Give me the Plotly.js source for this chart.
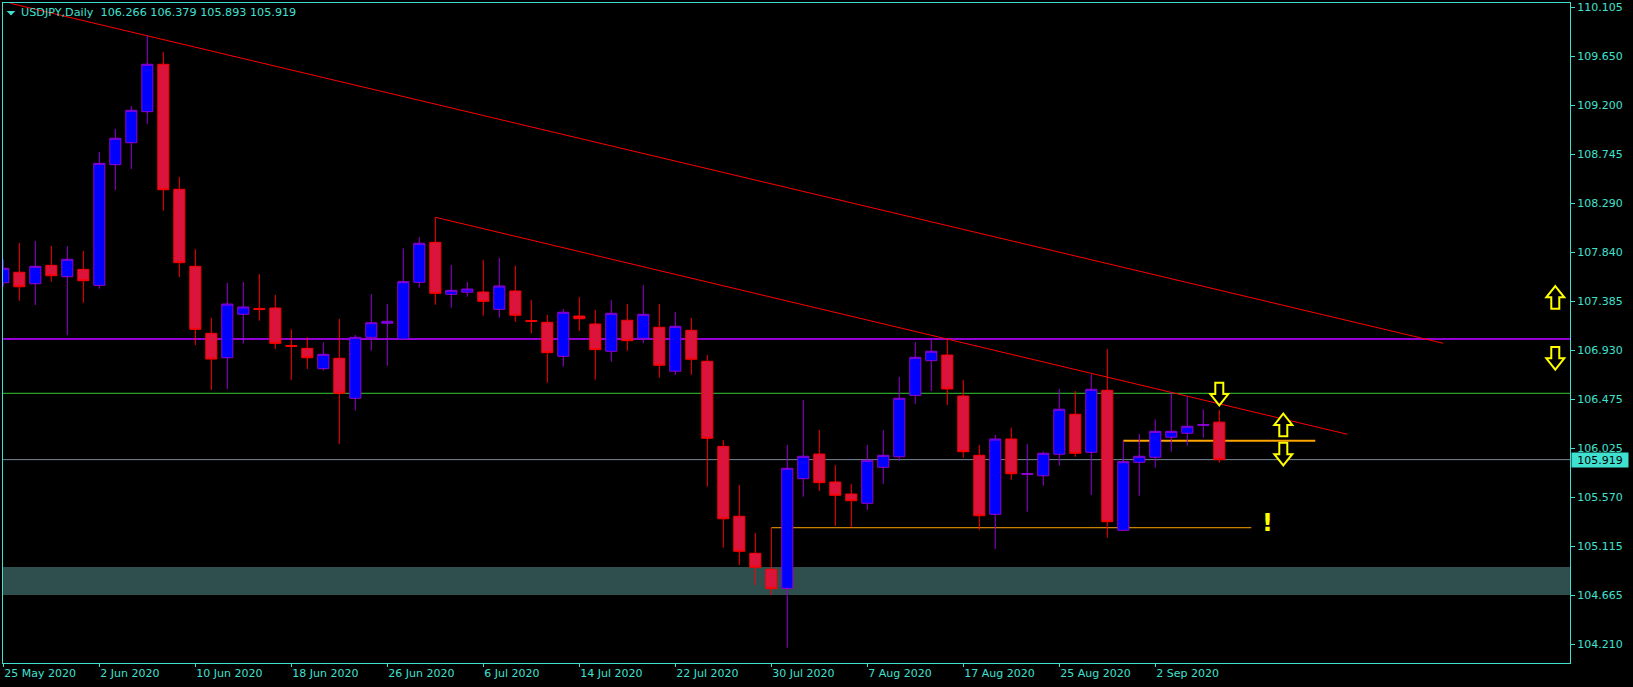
<!DOCTYPE html>
<html><head><meta charset="utf-8">
<script src="https://cdn.plot.ly/plotly-3.0.1.min.js"></script>
<style>html,body{margin:0;padding:0;background:#000;} #chart{width:1633px;height:687px;}</style>
</head><body><div id="chart"></div>
<script>
// ---- data (USDJPY, Daily) ----
const dates = ['2020-05-25','2020-05-26','2020-05-27','2020-05-28','2020-05-29','2020-06-01','2020-06-02','2020-06-03','2020-06-04','2020-06-05',
'2020-06-08','2020-06-09','2020-06-10','2020-06-11','2020-06-12','2020-06-15','2020-06-16','2020-06-17','2020-06-18','2020-06-19',
'2020-06-22','2020-06-23','2020-06-24','2020-06-25','2020-06-26','2020-06-29','2020-06-30','2020-07-01','2020-07-02','2020-07-03',
'2020-07-06','2020-07-07','2020-07-08','2020-07-09','2020-07-10','2020-07-13','2020-07-14','2020-07-15','2020-07-16','2020-07-17',
'2020-07-20','2020-07-21','2020-07-22','2020-07-23','2020-07-24','2020-07-27','2020-07-28','2020-07-29','2020-07-30','2020-07-31',
'2020-08-03','2020-08-04','2020-08-05','2020-08-06','2020-08-07','2020-08-10','2020-08-11','2020-08-12','2020-08-13','2020-08-14',
'2020-08-17','2020-08-18','2020-08-19','2020-08-20','2020-08-21','2020-08-24','2020-08-25','2020-08-26','2020-08-27','2020-08-28',
'2020-08-31','2020-09-01','2020-09-02','2020-09-03','2020-09-04','2020-09-07','2020-09-08'];
const openP = [107.556,107.653,107.547,107.717,107.612,107.680,107.532,108.649,108.852,109.139,
109.578,108.421,107.708,107.088,106.862,107.264,107.318,107.322,106.975,106.949,
106.761,106.857,106.487,107.051,107.181,107.035,107.560,107.930,107.449,107.468,
107.470,107.310,107.480,107.206,107.190,106.875,107.248,107.174,106.922,107.209,
107.042,107.144,106.737,107.116,106.829,106.042,105.395,105.052,104.904,104.728,
105.743,105.971,105.712,105.601,105.515,105.848,105.946,106.514,106.835,106.887,
106.508,105.959,105.413,106.110,105.782,105.770,105.969,106.339,105.987,106.561,
105.265,105.894,105.941,106.126,106.163,106.236,106.266];
const highP = [107.773,107.924,107.942,107.896,107.896,107.850,108.766,108.979,109.192,109.842,
109.691,108.535,107.866,107.233,107.554,107.563,107.637,107.443,107.125,107.051,
107.005,107.221,107.073,107.452,107.359,107.875,107.979,108.162,107.720,107.563,
107.767,107.788,107.714,107.396,107.258,107.313,107.424,107.304,107.396,107.359,
107.535,107.359,107.285,107.230,106.887,106.101,105.684,105.240,105.289,106.055,
106.471,106.193,105.869,105.694,106.055,106.193,106.684,107.008,107.033,107.033,
106.656,106.055,106.147,106.215,106.064,105.993,106.573,106.554,106.709,106.943,
106.094,106.156,106.292,106.542,106.502,106.385,106.379];
const lowP = [107.519,107.390,107.350,107.566,107.072,107.371,107.501,108.414,108.609,109.025,
108.223,107.609,106.980,106.563,106.573,106.992,107.205,106.943,106.656,106.758,
106.742,106.064,106.372,106.927,106.788,107.032,107.510,107.353,107.325,107.427,
107.251,107.233,107.196,107.088,106.631,106.779,107.110,106.659,106.825,106.927,
106.996,106.677,106.705,106.705,105.669,105.104,104.944,104.759,104.666,104.179,
105.576,105.629,105.305,105.293,105.453,105.694,105.907,106.434,106.554,106.425,
105.937,105.268,105.092,105.731,105.437,105.678,105.863,105.946,105.592,105.197,
105.262,105.585,105.844,105.993,106.048,106.122,105.893];
const closeP = [107.690,107.519,107.708,107.621,107.773,107.575,108.661,108.893,109.152,109.578,
108.417,107.742,107.125,106.850,107.359,107.332,107.308,106.995,106.968,106.862,
106.894,106.533,107.051,107.186,107.199,107.566,107.921,107.458,107.486,107.498,
107.384,107.526,107.255,107.198,106.909,107.283,107.223,106.937,107.273,107.020,
107.264,106.792,107.153,106.848,106.116,105.372,105.071,104.923,104.725,105.839,
105.950,105.706,105.589,105.539,105.913,105.959,106.487,106.866,106.922,106.573,
105.993,105.400,106.110,105.789,105.790,105.978,106.385,105.978,106.570,105.345,
105.900,105.950,106.181,106.181,106.228,106.244,105.919];

const tickDates  = ['2020-05-25','2020-06-02','2020-06-10','2020-06-18','2020-06-26','2020-07-06','2020-07-14','2020-07-22','2020-07-30','2020-08-07','2020-08-17','2020-08-25','2020-09-02'];
const tickLabels = ['25 May 2020','2 Jun 2020','10 Jun 2020','18 Jun 2020','26 Jun 2020','6 Jul 2020','14 Jul 2020','22 Jul 2020','30 Jul 2020','7 Aug 2020','17 Aug 2020','25 Aug 2020','2 Sep 2020'];
const priceTicks = [110.105,109.650,109.200,108.745,108.290,107.840,107.385,106.930,106.475,106.025,105.570,105.115,104.665,104.210];

const symbolTitle = 'USDJPY,Daily';
const lastBid = 105.919;
const resistanceLevel = 107.035;   // purple
const greenLevel = 106.533;        // green
const demandZone = [104.666, 104.925];
const lowSupport = {x: [48, 78], y: 105.289};     // thin orange
const nearSupport = {x: [70, 82], y: 106.094};    // thick orange
const trendMajorX = [0.44, 90],  trendMajorY = [110.142, 106.996];
const trendMinorX = [27, 84],    trendMinorY = [108.162, 106.154];
const upArrowsX = [97, 80],   upArrowsY = [107.421, 106.24];
const downArrowsX = [97, 76, 80], downArrowsY = [106.857, 106.526, 105.97];
const alertMark = {x: 79, y: 105.335};

// ---- chart ----
const AX = '#40E0D0';
const FONT = 'DejaVu Sans';
const idx = dates.map((d, i) => i);
const tickIdx = tickDates.map(d => dates.indexOf(d));
const ohlc = [openP[76], highP[76], lowP[76], closeP[76]].map(v => v.toFixed(3)).join(' ');

const trace = {
  type: 'candlestick', x: idx, open: openP, high: highP, low: lowP, close: closeP,
  increasing: {line: {color: '#9400D3', width: 1}, fillcolor: '#0000FF'},
  decreasing: {line: {color: '#FF0000', width: 1}, fillcolor: '#DC143C'},
  whiskerwidth: 0, hoverinfo: 'skip', showlegend: false
};

const upPath = 'M 0 11.3 L 9 0 L 4 0 L 4 -11.3 L -4 -11.3 L -4 0 L -9 0 Z';
const downPath = 'M 0 -11.3 L 9 0 L 4 0 L 4 11.3 L -4 11.3 L -4 0 L -9 0 Z';
function arrow(x, y, path) {
  return {type: 'path', xref: 'x', yref: 'y', xsizemode: 'pixel', ysizemode: 'pixel',
    xanchor: x, yanchor: y, path: path, line: {color: '#FFFF00', width: 2}, fillcolor: '#000000', layer: 'above'};
}
function hline(y, color, width) {
  return {type: 'line', xref: 'paper', x0: 0, x1: 1, yref: 'y', y0: y, y1: y, line: {color: color, width: width}, layer: 'below'};
}

const shapes = [
  {type: 'rect', xref: 'paper', x0: 0, x1: 1, yref: 'y', y0: demandZone[0], y1: demandZone[1], fillcolor: '#2F4F4F', line: {width: 0}, layer: 'below'},
  hline(resistanceLevel, '#9400D3', 2),
  hline(greenLevel, '#32CD32', 1),
  hline(lastBid, '#778899', 1),
  {type: 'line', xref: 'x', yref: 'y', x0: lowSupport.x[0], x1: lowSupport.x[1], y0: lowSupport.y, y1: lowSupport.y, line: {color: '#FFA500', width: 1}, layer: 'below'},
  {type: 'line', xref: 'x', yref: 'y', x0: nearSupport.x[0], x1: nearSupport.x[1], y0: nearSupport.y, y1: nearSupport.y, line: {color: '#FFA500', width: 2}, layer: 'below'},
  {type: 'line', xref: 'x', yref: 'y', x0: trendMajorX[0], x1: trendMajorX[1], y0: trendMajorY[0], y1: trendMajorY[1], line: {color: '#FF0000', width: 1}, layer: 'below'},
  {type: 'line', xref: 'x', yref: 'y', x0: trendMinorX[0], x1: trendMinorX[1], y0: trendMinorY[0], y1: trendMinorY[1], line: {color: '#FF0000', width: 1}, layer: 'below'},
  {type: 'path', xref: 'paper', yref: 'paper', xsizemode: 'pixel', ysizemode: 'pixel', xanchor: 0, yanchor: 1,
   path: 'M 3.7 -8 L 12.3 -8 L 8 -12.5 Z', fillcolor: AX, line: {width: 0}}
];
upArrowsX.forEach((x, i) => shapes.push(arrow(x, upArrowsY[i], upPath)));
downArrowsX.forEach((x, i) => shapes.push(arrow(x, downArrowsY[i], downPath)));

const annotations = [
  {xref: 'paper', yref: 'paper', x: 0, y: 1, xanchor: 'left', yanchor: 'top', xshift: 16, yshift: -1,
   text: symbolTitle + '  ' + ohlc, showarrow: false, font: {family: FONT, size: 11.2, color: AX}},
  {xref: 'x', yref: 'y', x: alertMark.x, y: alertMark.y, text: '<b>!</b>', showarrow: false,
   font: {family: FONT, size: 24, color: '#FFFF00'}},
  {xref: 'paper', yref: 'y', x: 1, y: lastBid, xanchor: 'left', yanchor: 'middle', xshift: 1,
   text: lastBid.toFixed(3), showarrow: false, bgcolor: AX, width: 56, height: 14, borderpad: 0,
   font: {family: FONT, size: 11, color: '#000000'}}
];

const layout = {
  width: 1633, height: 687,
  margin: {l: 3, r: 63, t: 3, b: 24, pad: 0},
  paper_bgcolor: '#000000', plot_bgcolor: '#000000',
  showlegend: false, hovermode: false,
  boxgap: 0.31, boxgroupgap: 0,
  xaxis: {type: 'linear', range: [-0.02, 97.92], showgrid: false, zeroline: false,
    showline: true, linecolor: AX, linewidth: 1, mirror: true,
    tickmode: 'array', tickvals: tickIdx, ticktext: tickLabels,
    ticks: 'outside', ticklen: 3, tickcolor: AX, tickwidth: 1,
    ticklabelposition: 'outside right',
    tickfont: {family: FONT, size: 11, color: AX},
    rangeslider: {visible: false}, fixedrange: true},
  yaxis: {side: 'right', range: [104.037, 110.145], showgrid: false, zeroline: false,
    showline: true, linecolor: AX, linewidth: 1, mirror: true,
    tickmode: 'array', tickvals: priceTicks, ticktext: priceTicks.map(v => v.toFixed(3)),
    ticks: 'outside', ticklen: 4, tickcolor: AX, tickwidth: 1,
    tickfont: {family: FONT, size: 11, color: AX}, fixedrange: true},
  shapes: shapes,
  annotations: annotations
};

Plotly.newPlot('chart', [trace], layout, {displayModeBar: false, staticPlot: true});
</script>
</body></html>
